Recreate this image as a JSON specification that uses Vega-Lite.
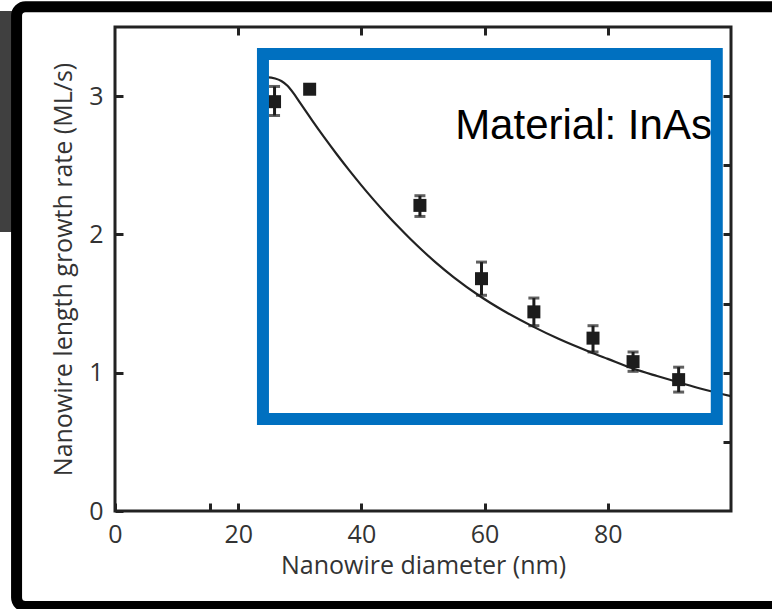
{
  "$schema": "https://vega.github.io/schema/vega-lite/v6.json",
  "width": 616,
  "height": 484,
  "autosize": {"type": "none"},
  "padding": {"left": 115, "top": 27, "right": 41, "bottom": 98},
  "background": "white",
  "config": {
    "view": {"stroke": "#222222", "strokeWidth": 3},
    "axis": {
      "domain": false,
      "grid": false,
      "ticks": true,
      "tickColor": "#222222",
      "tickWidth": 3,
      "tickSize": -8,
      "labelFont": "Open Sans",
      "labelFontSize": 25,
      "labelColor": "#333333",
      "labelFlush": false,
      "labelOverlap": false,
      "titleFont": "Open Sans",
      "titleFontSize": 25,
      "titleFontWeight": "normal",
      "titleColor": "#333333"
    }
  },
  "datasets": {
    "points": [
      {"d": 25.9, "rate": 2.96, "lo": 2.86, "hi": 3.07},
      {"d": 31.6, "rate": 3.05, "lo": 3.03, "hi": 3.07},
      {"d": 49.5, "rate": 2.21, "lo": 2.13, "hi": 2.28},
      {"d": 59.5, "rate": 1.68, "lo": 1.56, "hi": 1.80},
      {"d": 68.0, "rate": 1.44, "lo": 1.34, "hi": 1.54},
      {"d": 77.6, "rate": 1.25, "lo": 1.15, "hi": 1.34},
      {"d": 84.1, "rate": 1.08, "lo": 1.01, "hi": 1.15},
      {"d": 91.5, "rate": 0.95, "lo": 0.86, "hi": 1.04}
    ],
    "fit": [
      {"d": 24.5, "rate": 3.137},
      {"d": 26, "rate": 3.128},
      {"d": 27, "rate": 3.11},
      {"d": 28, "rate": 3.075},
      {"d": 29, "rate": 3.02},
      {"d": 30, "rate": 2.955},
      {"d": 31, "rate": 2.89},
      {"d": 32, "rate": 2.825},
      {"d": 34, "rate": 2.70},
      {"d": 36, "rate": 2.58},
      {"d": 38, "rate": 2.465},
      {"d": 40, "rate": 2.355},
      {"d": 42, "rate": 2.25},
      {"d": 44, "rate": 2.15},
      {"d": 46, "rate": 2.055},
      {"d": 48, "rate": 1.965},
      {"d": 50, "rate": 1.88},
      {"d": 52, "rate": 1.80},
      {"d": 55, "rate": 1.69},
      {"d": 59.2, "rate": 1.555},
      {"d": 63, "rate": 1.45},
      {"d": 67.8, "rate": 1.335},
      {"d": 72, "rate": 1.245},
      {"d": 77.1, "rate": 1.15},
      {"d": 80, "rate": 1.10},
      {"d": 84.1, "rate": 1.03},
      {"d": 88, "rate": 0.976},
      {"d": 91.7, "rate": 0.928},
      {"d": 95, "rate": 0.886},
      {"d": 100, "rate": 0.83}
    ],
    "frame": [{"x": -15.98, "x2": 110, "y": 3.647, "y2": -0.69}],
    "gray": [{"x": -20, "x2": -16.6, "y": 3.615, "y2": 2.017}],
    "box": [{"x": 24.02, "x2": 97.69, "y": 3.304, "y2": 0.665}],
    "label": [{"x": 96.9, "y": 2.689, "text": "Material: InAs"}]
  },
  "layer": [
    {
      "data": {"name": "gray"},
      "mark": {"type": "rect", "fill": "#404040", "clip": false},
      "encoding": {
        "x": {"field": "x", "type": "quantitative", "scale": {"domain": [0, 100], "nice": false, "zero": false}, "axis": null},
        "x2": {"field": "x2"},
        "y": {"field": "y", "type": "quantitative", "scale": {"domain": [0, 3.5], "nice": false, "zero": false}, "axis": null},
        "y2": {"field": "y2"}
      }
    },
    {
      "data": {"name": "frame"},
      "mark": {"type": "rect", "fill": null, "stroke": "#000000", "strokeWidth": 11, "cornerRadius": 9, "clip": false},
      "encoding": {
        "x": {"field": "x", "type": "quantitative", "scale": {"domain": [0, 100], "nice": false, "zero": false}, "axis": null},
        "x2": {"field": "x2"},
        "y": {"field": "y", "type": "quantitative", "scale": {"domain": [0, 3.5], "nice": false, "zero": false}, "axis": null},
        "y2": {"field": "y2"}
      }
    },
    {
      "data": {"name": "fit"},
      "mark": {"type": "line", "color": "#222222", "strokeWidth": 2.2, "interpolate": "monotone", "clip": true},
      "encoding": {
        "x": {"field": "d", "type": "quantitative", "scale": {"domain": [0, 100], "nice": false, "zero": false},
              "axis": {"orient": "bottom", "title": "Nanowire diameter (nm)", "values": [0, 15.5, 20, 40, 60, 80],
                       "labelExpr": "datum.value == 15.5 ? '' : datum.label", "labelPadding": 19, "titlePadding": 6}},
        "y": {"field": "rate", "type": "quantitative", "scale": {"domain": [0, 3.5], "nice": false, "zero": false},
              "axis": {"orient": "left", "title": "Nanowire length growth rate (ML/s)", "values": [0, 0.5, 1, 1.5, 2, 2.5, 3],
                       "format": "d", "labelExpr": "datum.value % 1 == 0 ? datum.label : ''", "labelPadding": 20, "titlePadding": 12}}
      }
    },
    {
      "data": {"name": "points"},
      "mark": {"type": "rule", "color": "#1c1c1c", "strokeWidth": 3},
      "encoding": {
        "x": {"field": "d", "type": "quantitative", "scale": {"domain": [0, 100], "nice": false, "zero": false}, "axis": null},
        "y": {"field": "lo", "type": "quantitative", "scale": {"domain": [0, 3.5], "nice": false, "zero": false}, "axis": null},
        "y2": {"field": "hi"}
      }
    },
    {
      "data": {"name": "points"},
      "mark": {"type": "tick", "color": "#1c1c1c", "orient": "horizontal", "size": 11, "thickness": 3},
      "encoding": {
        "x": {"field": "d", "type": "quantitative", "scale": {"domain": [0, 100], "nice": false, "zero": false}, "axis": null},
        "y": {"field": "lo", "type": "quantitative", "scale": {"domain": [0, 3.5], "nice": false, "zero": false}, "axis": null}
      }
    },
    {
      "data": {"name": "points"},
      "mark": {"type": "tick", "color": "#1c1c1c", "orient": "horizontal", "size": 11, "thickness": 3},
      "encoding": {
        "x": {"field": "d", "type": "quantitative", "scale": {"domain": [0, 100], "nice": false, "zero": false}, "axis": null},
        "y": {"field": "hi", "type": "quantitative", "scale": {"domain": [0, 3.5], "nice": false, "zero": false}, "axis": null}
      }
    },
    {
      "data": {"name": "points"},
      "mark": {"type": "square", "color": "#1c1c1c", "size": 169, "opacity": 1},
      "encoding": {
        "x": {"field": "d", "type": "quantitative", "scale": {"domain": [0, 100], "nice": false, "zero": false},
              "axis": {"orient": "top", "labels": false, "title": null, "values": [20, 40, 60, 80]}},
        "y": {"field": "rate", "type": "quantitative", "scale": {"domain": [0, 3.5], "nice": false, "zero": false},
              "axis": {"orient": "right", "labels": false, "title": null, "values": [0.5, 1, 1.5, 2, 2.5, 3]}}
      }
    },
    {
      "data": {"name": "box"},
      "mark": {"type": "rect", "fill": null, "stroke": "#0070C0", "strokeWidth": 12, "clip": false},
      "encoding": {
        "x": {"field": "x", "type": "quantitative", "scale": {"domain": [0, 100], "nice": false, "zero": false}, "axis": null},
        "x2": {"field": "x2"},
        "y": {"field": "y", "type": "quantitative", "scale": {"domain": [0, 3.5], "nice": false, "zero": false}, "axis": null},
        "y2": {"field": "y2"}
      }
    },
    {
      "data": {"name": "label"},
      "mark": {"type": "text", "font": "Liberation Sans", "fontSize": 42, "align": "right", "baseline": "alphabetic", "color": "#000000"},
      "encoding": {
        "x": {"field": "x", "type": "quantitative", "scale": {"domain": [0, 100], "nice": false, "zero": false}, "axis": null},
        "y": {"field": "y", "type": "quantitative", "scale": {"domain": [0, 3.5], "nice": false, "zero": false}, "axis": null},
        "text": {"field": "text"}
      }
    }
  ],
  "resolve": {"axis": {"x": "independent", "y": "independent"}}
}
